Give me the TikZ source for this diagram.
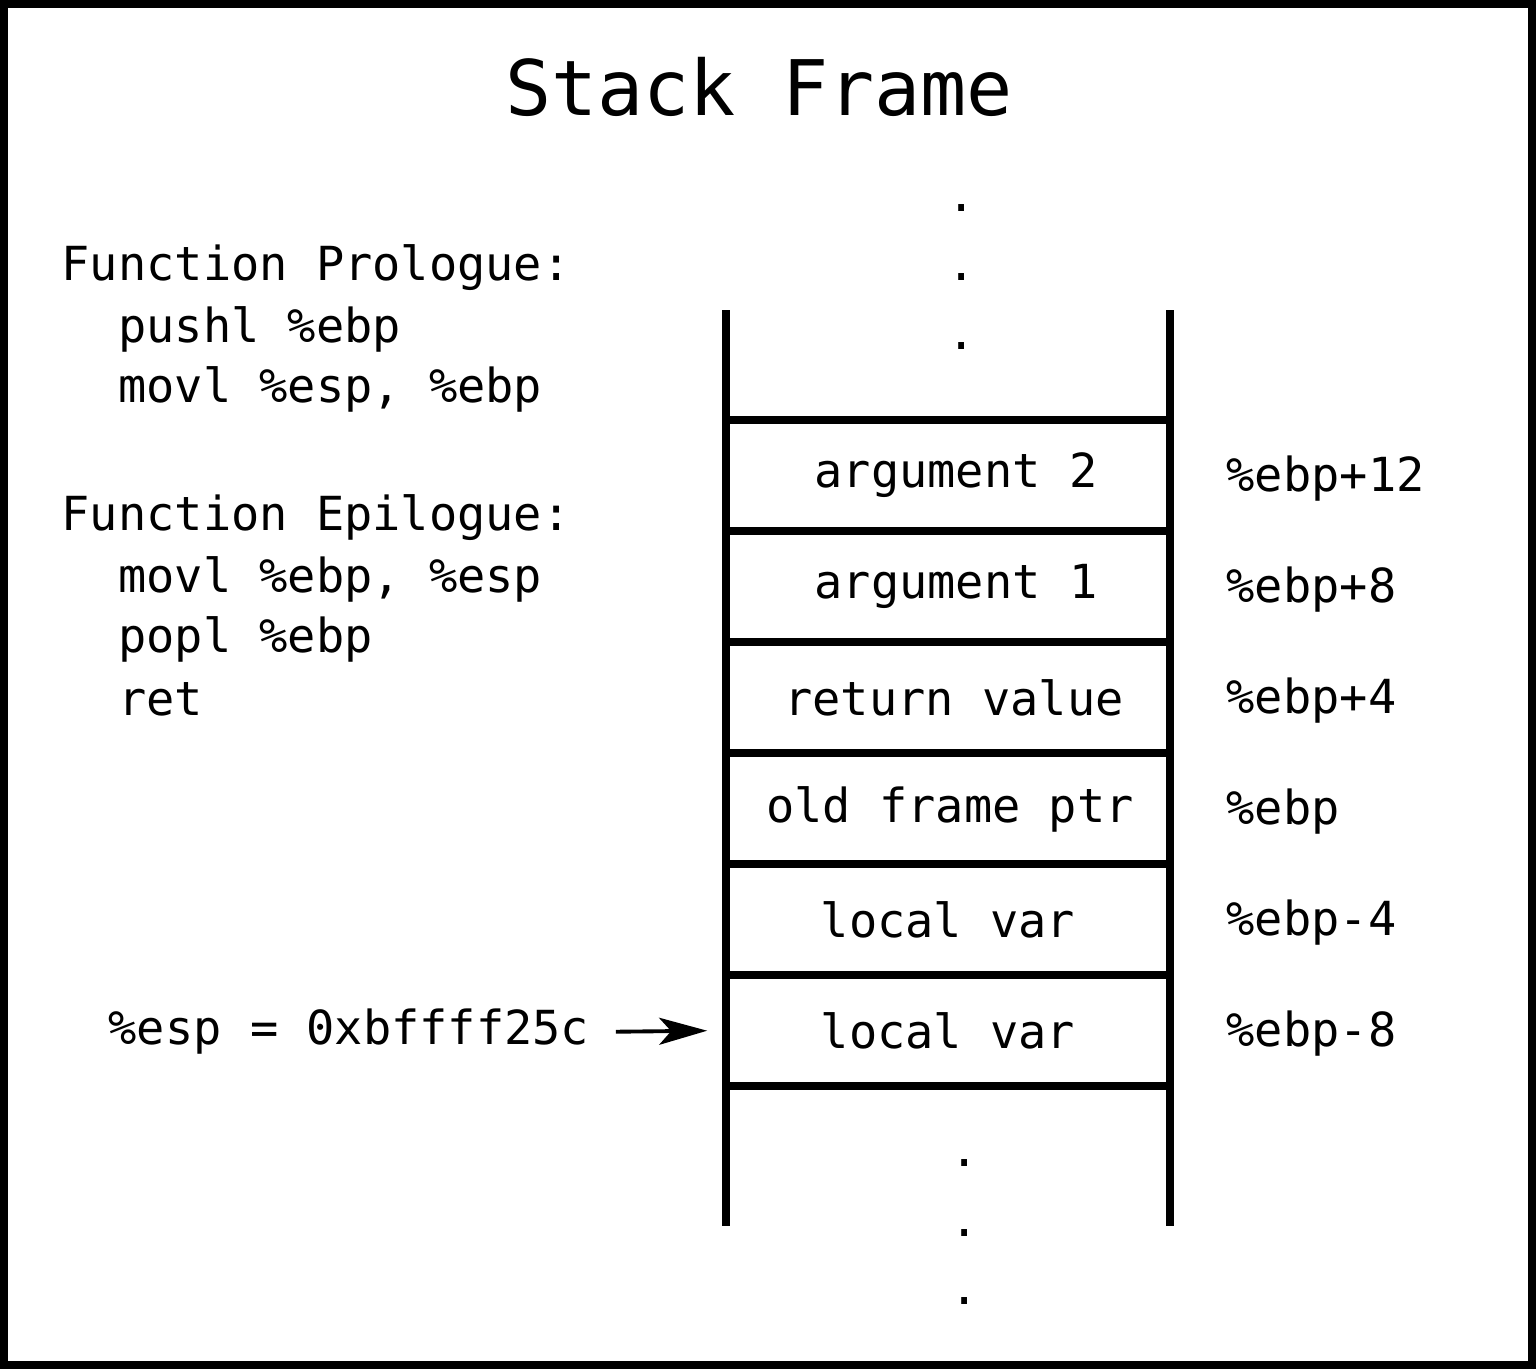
\documentclass[tikz,border=0pt]{standalone}
\usepackage{fontspec}
\setmainfont{DejaVu Sans Mono}
\usetikzlibrary{arrows.meta}

\begin{document}
\begin{tikzpicture}[x=0.01cm, y=-0.01cm,
    txt/.style={font=\fontsize{13.35}{16}\selectfont, inner sep=0pt},
    cell/.style={txt, minimum width=4.44cm, minimum height=1.11cm},
    wall/.style={line width=2pt},
    rule/.style={line width=2.2pt}]

    \useasboundingbox (0,0) rectangle (1536,1369);
    \draw [line width=2.3pt] (4,4) rectangle (1532,1365);

    \node [txt, font=\fontsize{21.8}{26}\selectfont] (title) at (759, 87) {Stack Frame};

    % prologue / epilogue
    \node [txt, anchor=west] (pro) at (61, 268) {Function Prologue:};
    \node [txt, anchor=west] (pro1) at (61, 329) {\hphantom{xx}pushl \%ebp};
    \node [txt, anchor=west] (pro2) at (61, 389) {\hphantom{xx}movl \%esp, \%ebp};
    \node [txt, anchor=west] (epi) at (61, 518) {Function Epilogue:};
    \node [txt, anchor=west] (epi1) at (61, 579) {\hphantom{xx}movl \%ebp, \%esp};
    \node [txt, anchor=west] (epi2) at (61, 639) {\hphantom{xx}popl \%ebp};
    \node [txt, anchor=west] (epi3) at (61, 699) {\hphantom{xx}ret};

    % the stack
    \draw [wall] (726, 310) -- (726, 1226);
    \draw [wall] (1170, 310) -- (1170, 1226);
    \foreach \y in {420, 531, ..., 1086}
        \draw [rule] (726, \y) -- (1170, \y);

    \node [txt] (dt1) at (962, 208) {.};
    \node [txt] (dt2) at (962, 277) {.};
    \node [txt] (dt3) at (962, 346) {.};

    \node [cell] (c1) at (956, 475.5) {argument 2};
    \node [cell] (c2) at (956, 586.5) {argument 1};
    \node [cell] (c3) at (954, 697.5) {return value};
    \node [cell] (c4) at (950, 809.5) {old frame ptr};
    \node [cell] (c5) at (948, 919.5) {local var};
    \node [cell] (c6) at (948, 1030.5) {local var};

    \node [txt] (db1) at (965, 1163) {.};
    \node [txt] (db2) at (965, 1233) {.};
    \node [txt] (db3) at (965, 1301) {.};

    % offsets from the frame pointer
    \node [txt, anchor=west] (o1) at (1226, 479) {\%ebp+12};
    \node [txt, anchor=west] (o2) at (1226, 590) {\%ebp+8};
    \node [txt, anchor=west] (o3) at (1226, 701) {\%ebp+4};
    \node [txt, anchor=west] (o4) at (1226, 812) {\%ebp};
    \node [txt, anchor=west] (o5) at (1226, 923) {\%ebp-4};
    \node [txt, anchor=west] (o6) at (1226, 1034) {\%ebp-8};

    \node [txt, anchor=west] (esp) at (108, 1032) {\%esp = 0xbffff25c};
    \draw [line width=1.1pt, -{Stealth[length=4.8mm, width=2.7mm, inset=1.2mm]},
        shorten <=0.26cm, shorten >=0.18cm] (esp.east) -- (c6.west);
\end{tikzpicture}
\end{document}
